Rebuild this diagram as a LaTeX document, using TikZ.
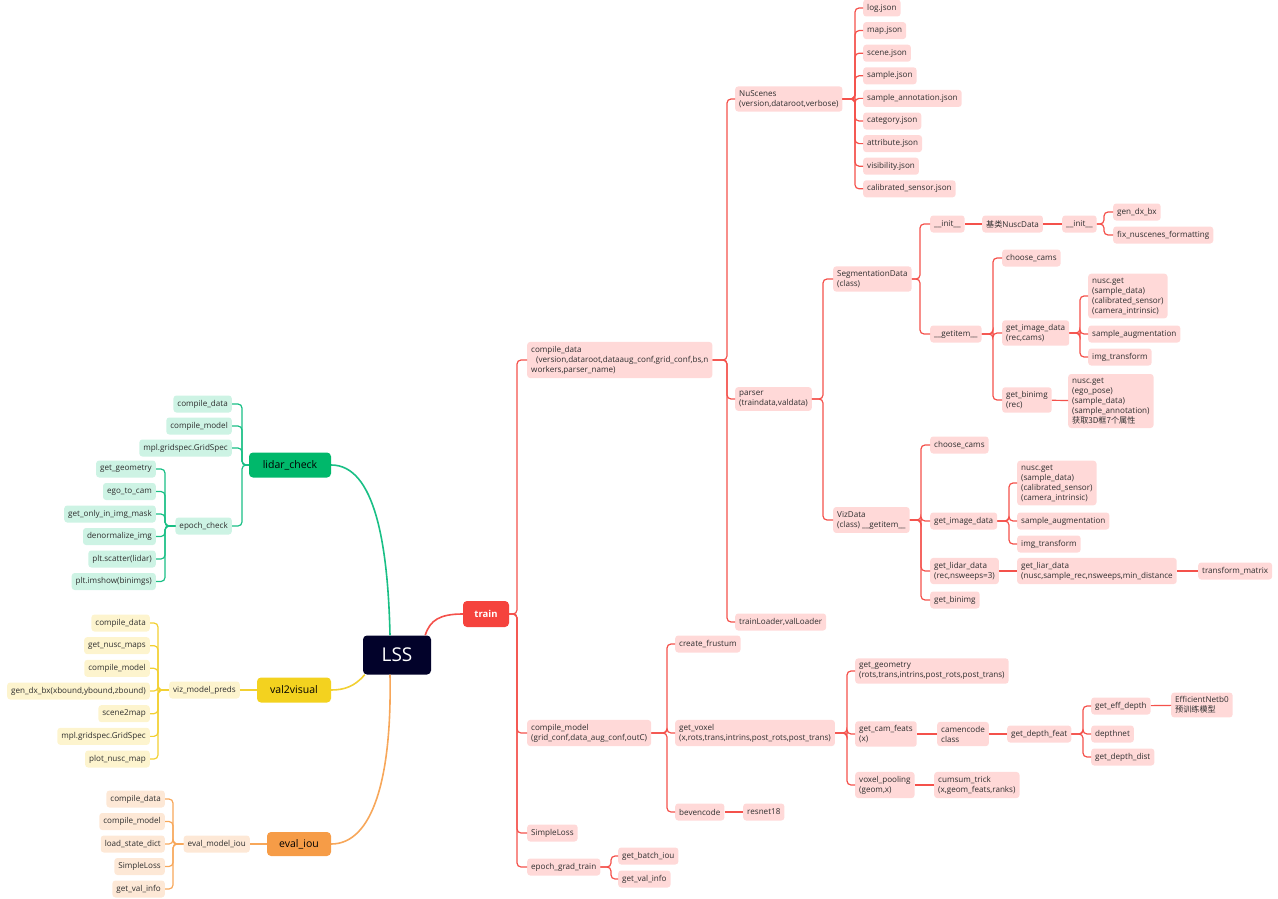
\documentclass[tikz,border=0pt]{standalone}
\usepackage{fontspec}
\setmainfont{Open Sans}
\newfontfamily\cjk{Noto Sans CJK SC}
\usepackage{tikz}
\usepackage{xcolor}
\definecolor{LSS_Navy}{HTML}{02022A}
\definecolor{LSS_Red}{HTML}{F5433D}
\definecolor{LSS_RedLine}{HTML}{F4514B}
\definecolor{LSS_Pink}{HTML}{FFD9D8}
\definecolor{LSS_Green}{HTML}{00B86B}
\definecolor{LSS_GreenLine}{HTML}{19BF85}
\definecolor{LSS_Mint}{HTML}{CDF3E4}
\definecolor{LSS_Yellow}{HTML}{F3D21F}
\definecolor{LSS_YellowLine}{HTML}{F2D032}
\definecolor{LSS_Cream}{HTML}{FDF4CE}
\definecolor{LSS_Orange}{HTML}{F69C47}
\definecolor{LSS_OrangeLine}{HTML}{F7A75A}
\definecolor{LSS_Peach}{HTML}{FDE8D6}
\definecolor{LSS_Text}{HTML}{2E2E2E}

\begin{document}
\begin{tikzpicture}[x=1pt, y=-1pt,
  box/.style={rounded corners=3pt, inner xsep=4pt, inner ysep=4pt, minimum height=17pt,
    align=left, text=LSS_Text, font=\fontsize{8.1}{10}\selectfont},
  redbox/.style={box, fill=LSS_Pink, anchor=west},
  greenbox/.style={box, fill=LSS_Mint, anchor=east},
  yellowbox/.style={box, fill=LSS_Cream, anchor=east},
  orangebox/.style={box, fill=LSS_Peach, anchor=east},
  topic/.style={rounded corners=4pt, minimum height=25pt, text=black, font=\fontsize{10.5}{12}\selectfont},
  redline/.style={draw=LSS_RedLine, line width=1.2pt, rounded corners=4pt},
  greenline/.style={draw=LSS_GreenLine, line width=1.2pt, rounded corners=4pt},
  yellowline/.style={draw=LSS_YellowLine, line width=1.2pt, rounded corners=4pt},
  orangeline/.style={draw=LSS_OrangeLine, line width=1.2pt, rounded corners=4pt},
]
  \useasboundingbox (0,0) rectangle (1278,899);

  % root and main topics
  \node[fill=LSS_Navy, text=white, rounded corners=4pt, minimum width=68pt, minimum height=39pt,
    font=\fontsize{19}{22}\selectfont] (lss) at (397,655) {LSS};
  \node[topic, fill=LSS_Red, text=white, minimum width=46pt, minimum height=26pt,
    font=\bfseries\fontsize{9.5}{11}\selectfont] (train) at (486,614) {train};
  \node[topic, fill=LSS_Green, minimum width=82pt] (lidar) at (290,465) {lidar\_check};
  \node[topic, fill=LSS_Yellow, minimum width=74pt] (val) at (294,690) {val2visual};
  \node[topic, fill=LSS_Orange, minimum width=64pt, minimum height=24pt] (eval) at (299,844) {eval\_iou};

  \draw[redline, line width=1.6pt] ([xshift=-6pt]lss.north east) .. controls (430,620) and (440,614) .. (train.west);
  \draw[greenline, line width=1.6pt] ([xshift=-7pt]lss.north) .. controls (388,545) and (375,465) .. (lidar.east);
  \draw[yellowline, line width=1.6pt] ([xshift=2pt]lss.south west) .. controls (355,686) and (345,690) .. (val.east);
  \draw[orangeline, line width=1.6pt] ([xshift=-7pt]lss.south) .. controls (392,780) and (372,844) .. (eval.east);

  % train branch
  \node[redbox] (cdata) at (527,360) {compile\_data\\\hspace*{5pt}(version,dataroot,dataaug\_conf,grid\_conf,bs,n\\workers,parser\_name)};
  \node[redbox] (cmodel) at (527,733) {compile\_model\\(grid\_conf,data\_aug\_conf,outC)};
  \node[redbox] (sloss) at (527,833) {SimpleLoss};
  \node[redbox] (egtrain) at (527,867) {epoch\_grad\_train};
  \foreach \ch in {cdata,cmodel,sloss,egtrain}
    \draw[redline] (\ch.west) -- ++(-10,0) |- (train.east);

  % compile_data
  \node[redbox] (nusc) at (735,99) {NuScenes\\(version,dataroot,verbose)};
  \node[redbox] (parser) at (735,399) {parser\\(traindata,valdata)};
  \node[redbox] (loader) at (735,622) {trainLoader,valLoader};
  \foreach \ch in {nusc,parser,loader}
    \draw[redline] (\ch.west) -- ++(-8,0) |- (cdata.east);

  \foreach \f [count=\i from 0] in {log,map,scene,sample,sample\_annotation,category,attribute,visibility,calibrated\_sensor} {
    \node[redbox] (json\i) at (863,{8+22.6*\i}) {\f.json};
    \draw[redline] (json\i.west) -- ++(-8,0) |- (nusc.east);
  }

  % parser: SegmentationData
  \node[redbox] (seg) at (833,279) {SegmentationData\\(class)};
  \node[redbox] (viz) at (833,520) {VizData\\(class) \_\_getitem\_\_};
  \foreach \ch in {seg,viz}
    \draw[redline] (\ch.west) -- ++(-10,0) |- (parser.east);

  \node[redbox] (sinit) at (930,224) {\_\_init\_\_};
  \node[redbox] (sget) at (930,334) {\_\_getitem\_\_};
  \foreach \ch in {sinit,sget}
    \draw[redline] (\ch.west) -- ++(-10,0) |- (seg.east);
  \node[redbox] (base) at (982,224) {{\cjk 基类}NuscData};
  \node[redbox] (binit) at (1062,224) {\_\_init\_\_};
  \node[redbox] (gdx) at (1113,212) {gen\_dx\_bx};
  \node[redbox] (fixn) at (1113,235) {fix\_nuscenes\_formatting};
  \draw[redline] (sinit) -- (base);
  \draw[redline] (base) -- (binit);
  \foreach \ch in {gdx,fixn}
    \draw[redline] (\ch.west) -- ++(-9,0) |- (binit.east);

  \node[redbox] (scams) at (1002,258) {choose\_cams};
  \node[redbox] (simg) at (1002,333) {get\_image\_data\\(rec,cams)};
  \node[redbox] (sbin) at (1002,400) {get\_binimg\\(rec)};
  \foreach \ch in {scams,simg,sbin}
    \draw[redline] (\ch.west) -- ++(-9,0) |- (sget.east);
  \node[redbox] (snusc) at (1088,296) {nusc.get\\(sample\_data)\\(calibrated\_sensor)\\(camera\_intrinsic)};
  \node[redbox] (saug) at (1088,334) {sample\_augmentation};
  \node[redbox] (stf) at (1088,357) {img\_transform};
  \foreach \ch in {snusc,saug,stf}
    \draw[redline] (\ch.west) -- ++(-8,0) |- (simg.east);
  \node[redbox] (sbget) at (1068,401) {nusc.get\\(ego\_pose)\\(sample\_data)\\(sample\_annotation)\\{\cjk 获取3D框7个属性}};
  \draw[redline] (sbin) -- (sbget);

  % parser: VizData
  \node[redbox] (vcams) at (930,445) {choose\_cams};
  \node[redbox] (vimg) at (930,521) {get\_image\_data};
  \node[redbox] (vlidar) at (930,571) {get\_lidar\_data\\(rec,nsweeps=3)};
  \node[redbox] (vbin) at (930,600) {get\_binimg};
  \foreach \ch in {vcams,vimg,vlidar,vbin}
    \draw[redline] (\ch.west) -- ++(-9,0) |- (viz.east);
  \node[redbox] (vnusc) at (1017,483) {nusc.get\\(sample\_data)\\(calibrated\_sensor)\\(camera\_intrinsic)};
  \node[redbox] (vaug) at (1017,521) {sample\_augmentation};
  \node[redbox] (vtf) at (1017,544) {img\_transform};
  \foreach \ch in {vnusc,vaug,vtf}
    \draw[redline] (\ch.west) -- ++(-8,0) |- (vimg.east);
  \node[redbox] (vliar) at (1017,571) {get\_liar\_data\\(nusc,sample\_rec,nsweeps,min\_distance};
  \node[redbox] (vtm) at (1198,571) {transform\_matrix};
  \draw[redline] (vlidar) -- (vliar);
  \draw[redline] (vliar) -- (vtm);

  % compile_model
  \node[redbox] (frust) at (675,644) {create\_frustum};
  \node[redbox] (voxel) at (675,733) {get\_voxel\\(x,rots,trans,intrins,post\_rots,post\_trans)};
  \node[redbox] (bev) at (675,812) {bevencode};
  \foreach \ch in {frust,voxel,bev}
    \draw[redline] (\ch.west) -- ++(-8,0) |- (cmodel.east);
  \node[redbox] (resnet) at (743,812) {resnet18};
  \draw[redline] (bev) -- (resnet);

  \node[redbox] (geom) at (855,671) {get\_geometry\\(rots,trans,intrins,post\_rots,post\_trans)};
  \node[redbox] (camf) at (855,734) {get\_cam\_feats\\(x)};
  \node[redbox] (vpool) at (855,785) {voxel\_pooling\\(geom,x)};
  \foreach \ch in {geom,camf,vpool}
    \draw[redline] (\ch.west) -- ++(-8,0) |- (voxel.east);
  \node[redbox] (camenc) at (937,734) {camencode\\class};
  \node[redbox] (dfeat) at (1007,734) {get\_depth\_feat};
  \draw[redline] (camf) -- (camenc);
  \draw[redline] (camenc) -- (dfeat);
  \node[redbox] (eff) at (1091,706) {get\_eff\_depth};
  \node[redbox] (dnet) at (1091,734) {depthnet};
  \node[redbox] (ddist) at (1091,757) {get\_depth\_dist};
  \foreach \ch in {eff,dnet,ddist}
    \draw[redline] (\ch.west) -- ++(-8,0) |- (dfeat.east);
  \node[redbox] (effnet) at (1171,705) {EfficientNetb0\\{\cjk 预训练模型}};
  \draw[redline] (eff) -- (effnet);
  \node[redbox] (cumsum) at (934,785) {cumsum\_trick\\(x,geom\_feats,ranks)};
  \draw[redline] (vpool) -- (cumsum);

  % epoch_grad_train
  \node[redbox] (biou) at (618,856) {get\_batch\_iou};
  \node[redbox] (vinfo) at (618,879) {get\_val\_info};
  \foreach \ch in {biou,vinfo}
    \draw[redline] (\ch.west) -- ++(-7,0) |- (egtrain.east);

  % lidar_check branch
  \foreach \t [count=\i] in {compile\_data,compile\_model,mpl.gridspec.GridSpec} {
    \node[greenbox] (lk\i) at (232,{382+22*\i}) {\t};
    \draw[greenline] (lk\i.east) -- ++(10,0) |- (lidar.west);
  }
  \node[greenbox] (epoch) at (232,526) {epoch\_check};
  \draw[greenline] (epoch.east) -- ++(10,0) |- (lidar.west);
  \foreach \t [count=\i from 0] in {get\_geometry,ego\_to\_cam,get\_only\_in\_img\_mask,denormalize\_img,plt.scatter(lidar),plt.imshow(binimgs)} {
    \node[greenbox] (ek\i) at (156,{469+22.5*\i}) {\t};
    \draw[greenline] (ek\i.east) -- ++(9,0) |- (epoch.west);
  }

  % val2visual branch
  \node[yellowbox] (vmp) at (240,690) {viz\_model\_preds};
  \draw[yellowline, line width=1.6pt] (vmp) -- (val);
  \foreach \t [count=\i from 0] in {compile\_data,get\_nusc\_maps,compile\_model,{gen\_dx\_bx(xbound,ybound,zbound)},scene2map,mpl.gridspec.GridSpec,plot\_nusc\_map} {
    \node[yellowbox] (yk\i) at (150,{623+22.67*\i}) {\t};
    \draw[yellowline] (yk\i.east) -- ++(8,0) |- (vmp.west);
  }

  % eval_iou branch
  \node[orangebox] (emi) at (250,844) {eval\_model\_iou};
  \draw[orangeline, line width=1.6pt] (emi) -- (eval);
  \foreach \t [count=\i from 0] in {compile\_data,compile\_model,load\_state\_dict,SimpleLoss,get\_val\_info} {
    \node[orangebox] (ok\i) at (165,{799+22.5*\i}) {\t};
    \draw[orangeline] (ok\i.east) -- ++(8,0) |- (emi.west);
  }
\end{tikzpicture}
\end{document}
